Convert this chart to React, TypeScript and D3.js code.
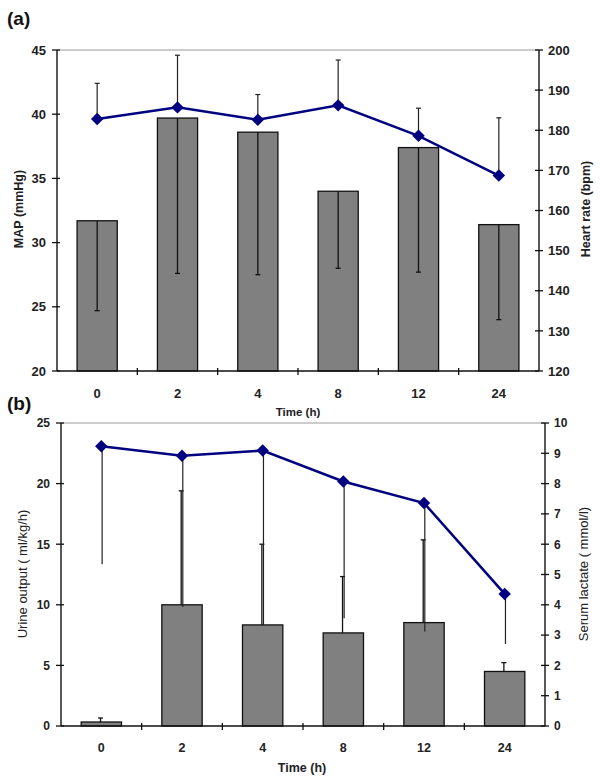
import React from "react";
import * as d3 from "d3";

const times = ["0", "2", "4", "8", "12", "24"];

// Panel (a)
const mapMean = [31.7, 39.7, 38.6, 34.0, 37.4, 31.4];
const mapLower = [24.7, 27.6, 27.5, 28.0, 27.7, 24.0];
const hrMean = [182.8, 185.7, 182.6, 186.2, 178.6, 168.7];
const hrUpper = [191.7, 198.7, 188.9, 197.5, 185.5, 183.1];
const mapTicks = [20, 25, 30, 35, 40, 45];
const hrTicks = [120, 130, 140, 150, 160, 170, 180, 190, 200];

// Panel (b)
const urineMean = [0.33, 10.0, 8.34, 7.68, 8.53, 4.5];
const urineUpper = [0.66, 19.4, 15.0, 12.33, 15.36, 5.23];
const lactateMean = [9.23, 8.92, 9.09, 8.07, 7.36, 4.36];
const lactateLower = [5.34, 3.93, 3.33, 3.56, 3.12, 2.71];
const urineTicks = [0, 5, 10, 15, 20, 25];
const lactateTicks = [0, 1, 2, 3, 4, 5, 6, 7, 8, 9, 10];

const TXT = "#222";
const NAVY = "#000080";
const FONT = "'Liberation Sans', Arial, sans-serif";

type PanelProps = {
  left: number; right: number; top: number; bottom: number;
  yLDomain: [number, number]; yRDomain: [number, number];
  yLTicks: number[]; yRTicks: number[];
  bars: number[]; barErr: number[]; barErrCap: boolean;
  line: number[]; lineErr: number[]; lineErrCap: boolean;
  tickFont: number; catFont: number; catY: number;
  timeY: number; timeX: number; timeFont: number;
  leftLabel: string; rightLabel: string; labelBold: boolean; labelFont: number;
  leftLabelX: number; rightLabelX: number; labelY: number;
  errOffsetBar: number; errOffsetLine: number;
};

function Panel(p: PanelProps) {
  const x = d3.scaleBand<string>().domain(times).range([p.left, p.right]).padding(0);
  const yL = d3.scaleLinear().domain(p.yLDomain).range([p.bottom, p.top]);
  const yR = d3.scaleLinear().domain(p.yRDomain).range([p.bottom, p.top]);
  const bw = x.bandwidth() * 0.5;
  const cx = (t: string) => (x(t) as number) + x.bandwidth() / 2;
  const lineGen = d3
    .line<number>()
    .x((_, i) => cx(times[i]))
    .y((d) => yR(d));
  const diamond = d3.symbol(d3.symbolSquare, 78)();
  const boundaries = times.map((t) => x(t) as number).concat([p.right]);
  return (
    <g fontFamily={FONT}>
      <line x1={p.left} x2={p.right} y1={p.top} y2={p.top} stroke="#9a9a9a" strokeWidth={1} />
      {p.bars.map((v, i) => (
        <rect
          key={"b" + i}
          x={cx(times[i]) - bw / 2}
          y={yL(v)}
          width={bw}
          height={yL(p.yLDomain[0]) - yL(v)}
          fill="#808080"
          stroke="#111"
          strokeWidth={1.3}
        />
      ))}
      {p.bars.map((v, i) => {
        const xx = cx(times[i]) + p.errOffsetBar;
        return (
          <g key={"be" + i} stroke="#111" strokeWidth={1.3}>
            <line x1={xx} x2={xx} y1={yL(v)} y2={yL(p.barErr[i])} />
            {p.barErrCap && <line x1={xx - 2.5} x2={xx + 2.5} y1={yL(p.barErr[i])} y2={yL(p.barErr[i])} />}
          </g>
        );
      })}
      {p.line.map((v, i) => {
        const xx = cx(times[i]) + p.errOffsetLine;
        return (
          <g key={"le" + i} stroke="#222" strokeWidth={1.2}>
            <line x1={xx} x2={xx} y1={yR(v)} y2={yR(p.lineErr[i])} />
            {p.lineErrCap && <line x1={xx - 2.5} x2={xx + 2.5} y1={yR(p.lineErr[i])} y2={yR(p.lineErr[i])} />}
          </g>
        );
      })}
      <path d={lineGen(p.line) || ""} fill="none" stroke={NAVY} strokeWidth={2.5} />
      {p.line.map((v, i) => (
        <path
          key={"m" + i}
          d={diamond || ""}
          transform={`translate(${cx(times[i])},${yR(v)}) rotate(45)`}
          fill={NAVY}
        />
      ))}
      <line x1={p.left} x2={p.left} y1={p.top} y2={p.bottom} stroke="#111" strokeWidth={1.4} />
      <line x1={p.right} x2={p.right} y1={p.top} y2={p.bottom} stroke="#111" strokeWidth={1.4} />
      <line x1={p.left} x2={p.right} y1={p.bottom} y2={p.bottom} stroke="#111" strokeWidth={1.4} />
      {p.yLTicks.map((t) => (
        <g key={"yl" + t}>
          <line x1={p.left - 5} x2={p.left + 3} y1={yL(t)} y2={yL(t)} stroke="#111" strokeWidth={1.3} />
          <text x={p.left - 11} y={yL(t)} dy="0.36em" textAnchor="end" fontSize={p.tickFont} fontWeight="bold" fill={TXT}>
            {t}
          </text>
        </g>
      ))}
      {p.yRTicks.map((t) => (
        <g key={"yr" + t}>
          <line x1={p.right - 4} x2={p.right + 4} y1={yR(t)} y2={yR(t)} stroke="#111" strokeWidth={1.3} />
          <text x={p.right + 9} y={yR(t)} dy="0.36em" textAnchor="start" fontSize={p.tickFont} fontWeight="bold" fill={TXT}>
            {t}
          </text>
        </g>
      ))}
      {boundaries.slice(1, -1).map((bx, i) => (
        <line key={"xt" + i} x1={bx} x2={bx} y1={p.bottom - 3} y2={p.bottom + 4} stroke="#111" strokeWidth={1.3} />
      ))}
      {times.map((t) => (
        <text key={"xl" + t} x={cx(t)} y={p.catY} dy="0.36em" textAnchor="middle" fontSize={p.catFont} fontWeight="bold" fill={TXT}>
          {t}
        </text>
      ))}
      <text x={p.timeX} y={p.timeY} dy="0.36em" textAnchor="middle" fontSize={p.timeFont} fontWeight="bold" fill={TXT}>
        Time (h)
      </text>
      <text
        transform={`translate(${p.leftLabelX},${p.labelY}) rotate(-90)`}
        textAnchor="middle"
        dy="0.36em"
        fontSize={p.labelFont}
        fontWeight={p.labelBold ? "bold" : "normal"}
        fill={TXT}
      >
        {p.leftLabel}
      </text>
      <text
        transform={`translate(${p.rightLabelX},${p.labelY}) rotate(-90)`}
        textAnchor="middle"
        dy="0.36em"
        fontSize={p.labelFont}
        fontWeight={p.labelBold ? "bold" : "normal"}
        fill={TXT}
      >
        {p.rightLabel}
      </text>
    </g>
  );
}

export default function App() {
  return (
    <svg
      width={600}
      height={781}
      viewBox="0 0 600 781"
      style={{ position: "absolute", left: 0, top: 0, background: "#fff" }}
    >
      <rect x={0} y={0} width={600} height={781} fill="#fff" />
      <text x={7} y={18} dy="0.36em" fontFamily={FONT} fontSize={19} fontWeight="bold" fill="#111">(a)</text>
      <text x={7} y={403} dy="0.36em" fontFamily={FONT} fontSize={19} fontWeight="bold" fill="#111">(b)</text>
      <Panel
        left={57} right={539} top={50} bottom={371}
        yLDomain={[20, 45]} yRDomain={[120, 200]}
        yLTicks={mapTicks} yRTicks={hrTicks}
        bars={mapMean} barErr={mapLower} barErrCap={true}
        line={hrMean} lineErr={hrUpper} lineErrCap={true}
        tickFont={13} catFont={13} catY={393}
        timeX={298} timeY={412} timeFont={11.5}
        leftLabel="MAP (mmHg)" rightLabel="Heart rate (bpm)" labelBold={true} labelFont={12.5}
        leftLabelX={18} rightLabelX={585} labelY={209}
        errOffsetBar={0} errOffsetLine={0}
      />
      <Panel
        left={61} right={545} top={423} bottom={726}
        yLDomain={[0, 25]} yRDomain={[0, 10]}
        yLTicks={urineTicks} yRTicks={lactateTicks}
        bars={urineMean} barErr={urineUpper} barErrCap={true}
        line={lactateMean} lineErr={lactateLower} lineErrCap={false}
        tickFont={12} catFont={12.5} catY={747}
        timeX={302} timeY={767} timeFont={12.5}
        leftLabel="Urine output ( ml/kg/h)" rightLabel="Serum lactate ( mmol/l)" labelBold={false} labelFont={13}
        leftLabelX={22} rightLabelX={583} labelY={574}
        errOffsetBar={-0.8} errOffsetLine={0.8}
      />
    </svg>
  );
}
